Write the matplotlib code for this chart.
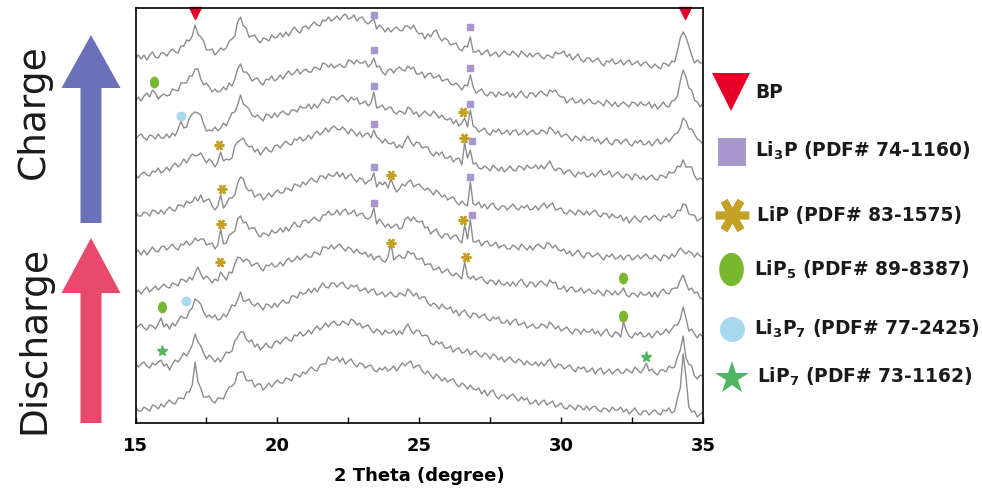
import numpy as np
import matplotlib.pyplot as plt
from matplotlib.path import Path

plt.rcParams['font.family'] = ['DejaVu Sans']
plt.rcParams['mathtext.fontset'] = 'dejavusans'
plt.rcParams['mathtext.default'] = 'bf'

# one reading every 0.1 degree, 15 -> 35
two_theta = np.round(np.linspace(15, 35, 201), 1)

# intensities (a.u.), top pattern first
trace_1 = [12,15,11,15,10,15,18,13,12,17, 17,14,18,21,18,17,24,24,30,29,
           34,45,36,33,29,20,20,21,15,18, 22,20,22,29,31,34,48,53,44,42,
           33,34,35,30,27,32,31,29,35,32, 33,37,33,38,34,39,43,39,37,43,
           44,41,45,48,45,44,50,49,53,49, 51,54,50,54,56,51,52,55,49,52,
           53,48,46,49,51,41,45,42,38,42, 38,41,43,40,39,44,44,41,45,39,
           36,37,31,36,33,38,40,33,29,32, 30,25,26,27,21,19,24,23,33,18,
           18,20,15,18,20,14,16,18,13,16, 19,16,15,19,16,13,19,16,13,17,
           13,16,17,13,11,15,14,12,18,16, 17,19,13,16,10,13,16,10,8,12,
           12,8,10,12,7,4,9,8,11,6, 7,10,5,8,10,5,7,9,4,7,
           8,4,2,6,3,1,7,6,4,9, 8,19,32,38,33,24,15,7,10,7, 7]
trace_2 = [9,13,9,14,17,13,20,17,11,14, 16,14,15,21,20,19,27,27,27,34,
           34,41,41,31,25,27,23,18,21,18, 19,23,20,27,24,31,41,46,38,38,
           35,29,31,32,27,25,31,30,34,29, 31,35,31,36,39,35,37,41,36,39,
           41,38,38,43,42,40,47,46,43,46, 42,44,46,43,43,50,49,46,50,47,
           47,49,43,46,52,43,44,38,35,40, 41,37,41,43,40,39,44,41,43,36,
           36,38,32,36,37,32,33,35,29,30, 31,26,25,27,24,20,25,24,35,23,
           17,19,21,16,14,18,17,13,18,15, 15,18,13,17,12,16,19,14,12,17,
           17,13,17,19,16,14,20,18,20,15, 13,13,7,10,12,7,8,11,6,9,
           11,7,6,9,7,4,10,7,4,8, 3,6,8,5,3,8,7,4,8,5,
           5,8,2,6,1,4,8,4,3,9, 10,14,29,40,33,22,20,10,8,3, 7]
trace_3 = [9,12,14,10,8,13,12,9,14,10, 10,14,10,15,12,19,27,20,21,30,
           34,36,35,33,24,17,18,17,21,17, 20,25,22,29,35,36,43,53,44,42,
           39,33,31,33,30,27,34,33,30,35, 31,35,37,34,33,38,38,36,42,40,
           40,44,39,44,40,44,49,46,45,51, 51,48,51,53,49,46,51,48,50,44,
           45,47,42,45,56,40,41,43,38,40, 41,36,34,37,36,34,41,39,34,36,
           31,34,37,34,32,37,34,30,33,29, 28,30,24,28,22,25,30,21,38,22,
           20,16,18,20,15,13,18,16,19,14, 15,18,13,17,18,13,15,18,13,16,
           18,14,14,18,17,14,21,18,14,17, 11,13,14,10,7,12,10,7,12,8,
           8,11,6,9,4,7,10,5,3,8, 8,4,7,9,4,2,7,5,8,3,
           4,7,2,6,9,4,6,10,6,10, 14,15,20,30,27,19,19,14,9,7, 4]
trace_4 = [10,7,11,13,10,9,14,13,17,12, 14,18,14,19,22,18,21,26,22,27,
           31,29,30,32,27,22,26,23,18,23, 33,24,26,25,27,39,43,45,47,41,
           38,39,33,36,30,34,38,34,33,39, 40,37,41,44,41,40,46,45,48,44,
           46,50,46,51,54,50,53,57,53,57, 59,56,55,58,55,51,56,53,49,53,
           48,51,52,47,55,48,46,42,46,42, 41,43,37,40,37,44,49,43,39,43,
           42,37,38,38,32,29,33,30,33,27, 27,29,23,26,27,20,42,27,35,21,
           22,17,16,19,17,14,20,17,14,18, 13,16,19,15,14,19,18,15,20,17,
           17,20,16,20,16,20,24,18,14,17, 16,11,14,15,11,8,13,11,13,8,
           9,12,8,12,15,10,11,14,8,11, 13,9,7,11,9,5,11,9,6,9,
           5,8,10,6,5,10,9,7,13,12, 13,19,18,25,18,18,18,9,5,7, 5]
trace_5 = [13,9,9,13,12,9,15,14,11,15, 11,15,18,15,14,20,20,18,24,22,
           23,28,24,30,23,25,26,19,15,19, 30,17,21,27,27,30,42,48,46,37,
           34,35,28,30,31,25,28,32,28,32, 35,32,32,37,36,34,41,40,38,43,
           40,44,47,44,43,49,49,46,51,49, 49,53,48,52,46,49,51,46,43,47,
           46,41,44,45,52,38,43,40,43,37, 46,39,33,36,41,39,43,45,38,40,
           41,37,35,37,34,30,35,32,28,30, 25,27,28,23,20,24,21,19,43,21,
           20,23,17,21,16,20,22,17,15,19, 19,15,18,21,17,15,19,17,20,15,
           16,19,15,19,22,17,20,22,15,16, 17,12,11,15,13,10,15,13,10,14,
           10,13,15,10,8,12,11,7,11,8, 7,10,4,8,2,6,9,5,3,8,
           9,5,8,10,6,4,9,8,11,7, 9,15,14,21,20,11,10,10,4,6, 8]
trace_6 = [9,12,7,12,7,11,15,11,10,15, 16,12,15,18,14,12,18,17,21,17,
           19,24,21,23,23,17,18,19,13,17, 33,18,19,27,29,31,43,46,39,40,
           33,34,34,28,25,29,28,26,32,29, 30,34,30,35,31,36,40,36,35,41,
           42,39,42,45,42,41,47,47,51,47, 48,52,47,51,53,48,49,52,46,48,
           49,44,43,45,54,38,43,39,35,38, 34,36,38,33,34,43,45,41,45,41,
           40,41,34,35,28,31,33,27,24,28, 28,23,26,27,22,19,37,23,42,20,
           20,22,16,20,21,16,17,20,14,16, 17,13,13,17,15,12,18,15,12,16,
           12,16,18,15,13,19,18,14,17,12, 11,13,8,11,6,9,12,7,4,9,
           9,5,7,9,5,2,7,5,8,3, 4,7,2,6,7,2,4,7,3,6,
           8,4,3,7,4,1,7,6,3,8, 5,10,14,11,8,11,9,5,9,6, 5]
trace_7 = [9,12,8,12,15,10,13,16,12,15, 18,15,14,19,18,16,23,22,20,25,
           22,29,35,28,23,26,23,19,23,21, 30,26,22,30,29,38,45,44,40,43,
           41,36,38,39,34,31,37,36,39,35, 36,40,36,41,44,40,42,46,42,45,
           48,45,45,50,49,47,55,55,53,57, 53,56,58,54,51,55,53,49,53,49,
           48,50,45,48,42,45,46,41,40,45, 59,42,45,47,44,44,51,48,49,43,
           43,44,37,38,38,32,33,35,29,31, 33,28,26,29,26,23,40,26,23,26,
           22,24,25,21,18,22,21,17,22,18, 17,20,16,20,16,20,23,18,15,20,
           19,15,19,21,18,16,22,19,20,13, 13,16,10,14,15,10,11,14,9,11,
           13,9,8,12,9,6,12,10,7,11, 7,10,14,7,5,9,8,5,10,7,
           7,10,5,10,5,10,13,9,8,13, 14,14,22,27,19,12,14,9,10,4, 3]
trace_8 = [11,14,16,12,10,15,14,11,16,22, 13,16,11,17,14,19,24,22,22,29,
           32,41,39,36,28,23,25,22,25,20, 21,26,23,29,35,34,40,48,39,39,
           41,36,34,37,34,30,36,35,32,37, 33,37,40,37,37,44,44,42,48,46,
           47,51,47,52,48,53,57,53,52,57, 57,53,56,58,53,51,55,53,55,49,
           50,52,47,50,51,45,46,48,43,46, 48,44,43,47,46,44,51,48,44,47,
           41,43,43,37,34,37,35,31,36,32, 31,33,27,30,24,28,30,25,22,27,
           26,22,24,26,21,19,23,21,23,17, 17,20,15,19,21,15,16,18,12,14,
           16,12,12,16,15,12,18,15,11,14, 9,11,13,9,6,11,10,6,11,8,
           8,11,6,9,4,8,11,5,3,8, 7,3,18,9,4,2,7,5,8,3,
           4,7,2,6,9,5,7,11,7,11, 15,15,21,33,22,9,11,6,2,6, 3]
trace_9 = [17,13,16,18,14,12,17,15,18,20, 14,16,10,16,20,18,22,27,24,29,
           35,46,38,34,27,21,25,22,18,22, 18,23,28,27,29,39,43,48,48,41,
           38,40,33,36,30,33,37,33,32,38, 39,36,40,43,40,39,45,44,48,44,
           46,50,46,51,54,50,53,57,53,57, 59,55,55,59,57,55,61,59,55,57,
           52,54,55,50,47,51,49,45,50,47, 47,50,45,49,46,52,56,50,46,50,
           49,44,45,44,37,35,39,36,38,32, 32,34,28,31,32,27,28,31,25,28,
           29,25,23,27,25,21,26,24,20,23, 18,21,23,19,17,21,19,15,19,16,
           15,18,14,18,14,18,21,15,12,16, 15,11,13,15,11,8,13,11,13,8,
           9,12,6,10,12,6,8,11,6,9, 11,7,7,11,9,7,13,10,7,11,
           17,9,11,7,5,10,10,8,14,12, 13,23,30,44,22,16,14,4,1,5, 4]
trace_10 = [13,9,9,13,11,9,15,14,11,16, 13,17,20,17,16,22,22,21,28,28,
            35,58,38,32,23,23,24,19,17,22, 22,21,28,33,34,37,47,48,48,40,
            39,40,33,36,36,30,33,37,33,37, 40,37,37,42,41,39,46,45,43,48,
            46,50,53,50,49,55,56,56,63,60, 60,63,58,62,56,59,61,56,53,57,
            56,52,54,55,50,48,52,50,53,49, 51,54,49,53,57,54,57,59,52,54,
            55,49,46,49,45,41,46,43,39,42, 38,40,41,36,33,37,35,31,35,31,
            30,32,26,30,24,28,30,24,21,25, 25,21,24,26,22,19,23,20,22,16,
            17,20,15,18,20,15,17,19,13,15, 17,12,11,15,13,10,15,13,10,14,
            10,13,14,10,8,12,11,8,13,10, 10,13,8,11,6,9,12,7,5,9,
            9,5,8,10,7,5,10,9,12,7, 9,22,32,66,43,13,8,9,3,6, 8]

patterns = [trace_1, trace_2, trace_3, trace_4, trace_5,
            trace_6, trace_7, trace_8, trace_9, trace_10]
offsets = [353, 313, 275, 238, 198, 161, 121, 83, 43, 3]

# phase markers (2 theta, stacked height)
bp_x = [17.1, 34.35]
bp_y = [410, 410]
li3p_x = [23.4, 23.4, 23.4, 23.4, 23.4, 23.4, 26.78, 26.78, 26.78, 26.85, 26.78, 26.85]
li3p_y = [408, 373, 337, 299, 256, 220, 396, 355, 319, 282, 246, 208]
lip_x = [17.96, 18.06, 18.0, 17.98, 24.02, 24.02, 26.54, 26.58, 26.54, 26.63]
lip_y = [278, 234, 199, 161, 248, 180, 311, 285, 203, 166]
lip5_x = [15.65, 15.92, 32.17, 32.19]
lip5_y = [341, 116, 145, 107]
li3p7_x = [16.59, 16.77]
li3p7_y = [307, 122]
lip7_x = [15.94, 32.98]
lip7_y = [72, 66]

legend_labels = ['BP', 'Li$_3$P (PDF# 74-1160)', 'LiP (PDF# 83-1575)',
                 'LiP$_5$ (PDF# 89-8387)', 'Li$_3$P$_7$ (PDF# 77-2425)',
                 'LiP$_7$ (PDF# 73-1162)']

c_bp, c_li3p, c_lip = '#e60027', '#a896cc', '#c4a024'
c_lip5, c_li3p7, c_lip7 = '#78b82e', '#a8d8ef', '#4fb562'
circ = Path.unit_circle()
ellipse = Path(circ.vertices * [0.74, 1.0], circ.codes)
asterisk = (6, 2, 30)

fig = plt.figure(figsize=(9.82, 4.99), dpi=100)

# pixel-space overlay for the arrows and the legend
side = fig.add_axes([0, 0, 1, 1], zorder=0)
side.set_xlim(0, 982)
side.set_ylim(499, 0)
side.axis('off')
side.arrow(91, 223, 0, -188, width=21, head_width=59, head_length=53,
           length_includes_head=True, color='#6b71b8', lw=0)
side.arrow(91, 423, 0, -185, width=21, head_width=59, head_length=55,
           length_includes_head=True, color='#e8486c', lw=0)
side.text(34, 112, 'Charge', rotation=90, ha='center', va='center',
          fontsize=27, color='#1a1a1a')
side.text(34, 340, 'Discharge', rotation=90, ha='center', va='center',
          fontsize=27, color='#1a1a1a')

icons = [dict(marker='v', ms=27, color=c_bp),
         dict(marker='s', ms=20, color=c_li3p),
         dict(marker=asterisk, ms=24, mew=5.5, color=c_lip),
         dict(marker=ellipse, ms=24, color=c_lip5),
         dict(marker='o', ms=18, color=c_li3p7),
         dict(marker='*', ms=25, color=c_lip7)]
icon_xy = [(731, 92), (732, 152), (732, 215), (731, 269), (732, 329), (732, 378)]
text_xy = [(755, 92), (755, 151), (757, 215), (754, 270), (754, 329), (757, 377)]
for lab, ic, (ix, iy), (tx, ty) in zip(legend_labels, icons, icon_xy, text_xy):
    side.plot([ix], [iy], ls='none', mec=ic['color'], mfc=ic['color'],
              marker=ic['marker'], ms=ic['ms'], mew=ic.get('mew', 0))
    side.text(tx, ty, lab, ha='left', va='center', fontsize=13.4,
              fontweight='bold', color='#1a1a1a')

ax = fig.add_axes([135.5 / 982, 76 / 499, 567.5 / 982, 415 / 499], zorder=1)
ax.patch.set_alpha(0)
for trace, off in zip(patterns, offsets):
    ax.plot(two_theta, np.array(trace) + off, color='#8c8c8c', lw=1.0)

ax.plot(bp_x, bp_y, ls='none', marker='v', ms=8, color=c_bp, clip_on=False)
ax.plot(li3p_x, li3p_y, ls='none', marker='s', ms=5, color=c_li3p)
ax.plot(lip_x, lip_y, ls='none', marker=asterisk, ms=7, mew=1.8, color=c_lip)
ax.plot(lip5_x, lip5_y, ls='none', marker=ellipse, ms=7.5, color=c_lip5)
ax.plot(li3p7_x, li3p7_y, ls='none', marker='o', ms=6, color=c_li3p7)
ax.plot(lip7_x, lip7_y, ls='none', marker='*', ms=8, color=c_lip7)

ax.set_xlim(15, 35)
ax.set_ylim(0, 415)
ax.set_yticks([])
ax.set_xticks([15, 20, 25, 30, 35])
ax.set_xticks([17.5, 22.5, 27.5, 32.5], minor=True)
ax.tick_params(axis='x', which='both', direction='in', length=4.5, width=1.0,
               pad=10, labelsize=13)
for lab in ax.get_xticklabels():
    lab.set_fontweight('bold')
ax.set_xlabel('2 Theta (degree)', fontsize=13, fontweight='bold', labelpad=9)
for sp in ax.spines.values():
    sp.set_linewidth(1.2)

fig.savefig('out.png', dpi=100)
